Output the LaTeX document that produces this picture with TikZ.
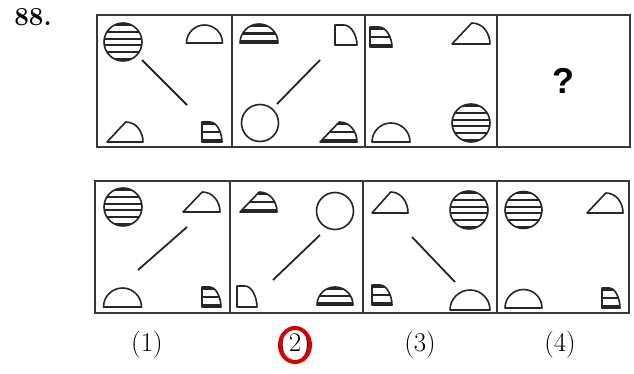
\documentclass[tikz,border=0pt]{standalone}
\usepackage{fontspec}
\usepackage{tikz}
\usepackage{xcolor}
\newfontfamily\qfont{Liberation Sans}

% outline paths of the small figures (x, y, size ...)
\newcommand{\ballpath}[3]{({#1},{#2}) circle[radius=#3]}
\newcommand{\domepath}[3]{({#1-#3},{#2}) arc[start angle=180,end angle=0,radius=#3] -- cycle}
\newcommand{\slopepath}[4]{({#1},{#2}) -- ({#1+0.52*#3},{#2+#4}) .. controls ({#1+0.82*#3},{#2+#4}) and ({#1+#3},{#2+0.5*#4}) .. ({#1+#3},{#2}) -- cycle}
\newcommand{\quartpath}[4]{({#1},{#2}) -- ({#1},{#2+#4}) -- ({#1+0.4*#3},{#2+#4}) .. controls ({#1+0.75*#3},{#2+#4}) and ({#1+#3},{#2+0.45*#4}) .. ({#1+#3},{#2}) -- cycle}

% striped fill: path, bottom, height, number of bands
\newcommand{\striped}[4]{%
  \begin{scope}
    \clip #1;
    \fill[black!85] #1;
    \pgfmathsetmacro\bandh{#3/#4}
    \pgfmathsetmacro\bandx{0.2*\bandh}
    \pgfmathtruncatemacro\lastk{#4-2}
    \foreach \k in {1,3,...,\lastk}
      \fill[white] (-1000,{#2+\k*\bandh-\bandx}) rectangle (1000,{#2+(\k+1)*\bandh+\bandx});
  \end{scope}
  \draw[shapeline] #1;}

\tikzset{
  cell/.style={draw=black!78, line width=2.4pt, rectangle, inner sep=0pt, outer sep=0pt, minimum height=132pt},
  shapeline/.style={draw=black!85, line width=1.6pt, line join=round},
  guide/.style={draw=black!85, line width=1.8pt},
  label/.style={font=\fontsize{27}{29}\selectfont},
}

\begin{document}
\begin{tikzpicture}[x=1pt, y=1pt]
  \useasboundingbox (0,0) rectangle (634,373);
  \fill[white] (0,0) rectangle (634,373);

  % Question number
  \node[font=\fontsize{26}{28}\selectfont\bfseries] (num) at (33,356) {88.};

  % Problem figures
  \node[cell, minimum width=135pt] (t1) at (164.5,292) {};
  \node[cell, minimum width=133pt] (t2) at (298.5,292) {};
  \node[cell, minimum width=132pt] (t3) at (431,292) {};
  \node[cell, minimum width=133pt] (t4) at (563.5,292) {};
  \node[font=\qfont\bfseries\fontsize{36}{40}\selectfont] (q) at (t4.center) {?};

  % Figure 1
  \striped{\ballpath{123}{331}{19}}{312}{38}{11}
  \draw[shapeline] \domepath{204.5}{330}{18};
  \draw[guide] (142,313) -- (187,268);
  \draw[shapeline] \slopepath{107}{231}{36}{20};
  \striped{\quartpath{202}{231}{20}{20}}{231}{20}{5}

  % Figure 2
  \striped{\domepath{259}{330}{19}}{330}{19}{5}
  \draw[shapeline] \quartpath{335}{328}{22}{20};
  \draw[guide] (320,313) -- (277,269);
  \draw[shapeline] \ballpath{260}{250}{18.5};
  \striped{\slopepath{320}{231}{37}{20}}{231}{20}{5}

  % Figure 3
  \striped{\quartpath{370}{326}{22}{20}}{326}{20}{5}
  \draw[shapeline] \slopepath{452}{329}{38}{21};
  \draw[shapeline] \domepath{391}{231}{19};
  \striped{\ballpath{471}{250}{19}}{231}{38}{11}

  % Answer figures
  \node[cell, minimum width=135pt] (b1) at (162.5,126) {};
  \node[cell, minimum width=133pt] (b2) at (296.5,126) {};
  \node[cell, minimum width=134pt] (b3) at (430,126) {};
  \node[cell, minimum width=132pt] (b4) at (563,126) {};

  % Answer 1
  \striped{\ballpath{123}{166}{19}}{147}{38}{11}
  \draw[shapeline] \slopepath{183}{161}{37}{20};
  \draw[guide] (187,146) -- (138,103);
  \draw[shapeline] \domepath{122.5}{66}{19};
  \striped{\quartpath{202}{66}{19}{20}}{66}{20}{5}

  % Answer 2
  \striped{\slopepath{240}{161}{37}{20}}{161}{20}{5}
  \draw[shapeline] \ballpath{335}{162}{18.5};
  \draw[guide] (320,138) -- (273,93);
  \draw[shapeline] \quartpath{237}{66}{20}{21};
  \striped{\domepath{335}{68}{18}}{68}{18}{5}

  % Answer 3
  \draw[shapeline] \slopepath{372}{160}{36}{21};
  \striped{\ballpath{469}{163}{19}}{144}{38}{11}
  \draw[guide] (412,136) -- (455,91);
  \striped{\quartpath{372}{68}{20}{20}}{68}{20}{5}
  \draw[shapeline] \domepath{470}{63}{20};

  % Answer 4
  \striped{\ballpath{523.5}{163}{18.5}}{144.5}{37}{11}
  \draw[shapeline] \slopepath{587}{160}{36}{20};
  \draw[shapeline] \domepath{523.5}{65}{18.5};
  \striped{\quartpath{602}{65}{18}{20}}{65}{20}{5}

  % Option labels
  \node[label] (l1) at (147,28) {(1)};
  \node[label] (l2) at (295,28) {(2)};
  \node[label] (l3) at (420,28) {(3)};
  \node[label] (l4) at (560,28) {(4)};
  \draw[red!85!black, line width=4pt] (l2.center) ellipse[x radius=15, y radius=17];
\end{tikzpicture}
\end{document}
